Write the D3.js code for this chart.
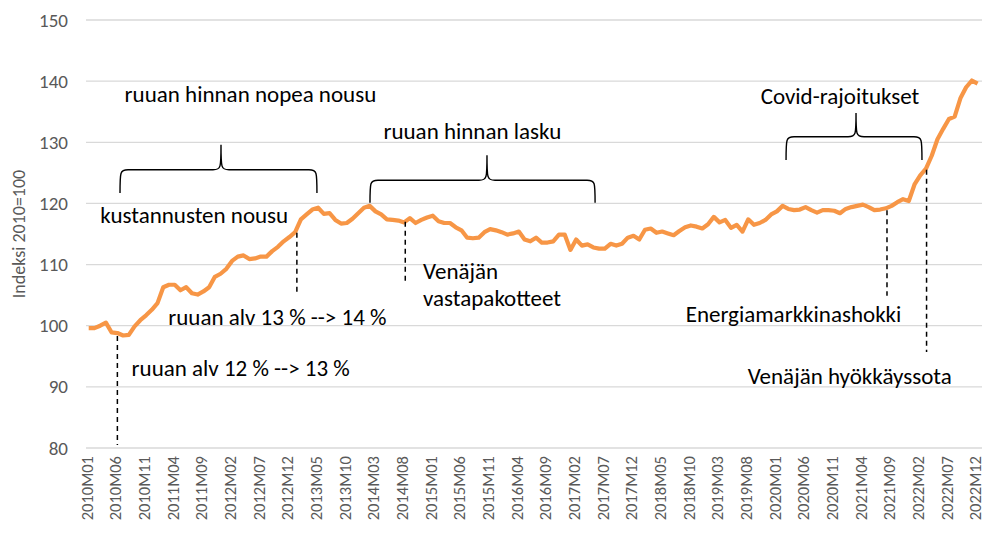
<!DOCTYPE html>
<html>
<head>
<meta charset="utf-8">
<script src="https://cdn.jsdelivr.net/npm/d3@7"></script>
<style>
	body { margin: 0; background: white; }
	svg text { font-family: Carlito, Calibri, Lato, sans-serif; }
</style>
</head>
<body>
<div id="chart"></div>
<script>
// ruoan hintaindeksi 2010=100, kuukausittain 2010M01 - 2022M12
const years = [2010, 2011, 2012, 2013, 2014, 2015, 2016, 2017, 2018, 2019, 2020, 2021, 2022]
const index2010 = [
	99.6, 99.6, 100.0, 100.5, 98.9, 98.8, 98.4, 98.5, 99.9, 100.9, 101.7, 102.6,
	103.7, 106.3, 106.7, 106.7, 105.8, 106.3, 105.3, 105.1, 105.6, 106.3, 108.0, 108.5,
	109.3, 110.6, 111.3, 111.5, 110.9, 111.0, 111.3, 111.3, 112.2, 112.9, 113.8, 114.5,
	115.3, 117.4, 118.2, 119.0, 119.3, 118.3, 118.4, 117.3, 116.7, 116.8, 117.5, 118.4,
	119.3, 119.6, 118.7, 118.2, 117.4, 117.3, 117.2, 116.9, 117.6, 116.8, 117.3, 117.7,
	118.0, 117.1, 116.8, 116.8, 116.1, 115.6, 114.4, 114.3, 114.4, 115.3, 115.8, 115.6,
	115.3, 114.9, 115.1, 115.4, 114.1, 113.8, 114.4, 113.6, 113.6, 113.8, 114.9, 114.9,
	112.4, 114.1, 113.1, 113.3, 112.8, 112.6, 112.6, 113.4, 113.1, 113.4, 114.4, 114.7,
	114.1, 115.7, 115.9, 115.2, 115.4, 115.1, 114.8, 115.5, 116.1, 116.4, 116.2, 115.9,
	116.6, 117.8, 116.9, 117.3, 116.0, 116.5, 115.4, 117.4, 116.5, 116.8, 117.3, 118.2,
	118.7, 119.6, 119.1, 118.9, 119.0, 119.4, 118.9, 118.5, 118.9, 118.9, 118.8, 118.4,
	119.1, 119.4, 119.6, 119.8, 119.4, 118.9, 119.0, 119.2, 119.6, 120.2, 120.7, 120.4,
	123.1, 124.6, 125.7, 127.8, 130.5, 132.2, 133.8, 134.2, 137.2, 139.0, 140.1, 139.6
]
const yTicks = [80, 90, 100, 110, 120, 130, 140, 150]
const yLabel = 'Indeksi 2010=100'

const months = []
for (let y of years) {
	for (let m = 1; m < 13; m++) {
		months.push(y + 'M' + (m < 10 ? '0' + m : m))
	}
}
const tickLabels = months.filter((d, i) => i % 5 == 0)

// tekstit: kohta kuukausi-indeksinä ja indeksin tasona
const notes = [
	{ text: 'ruuan hinnan nopea nousu', at: 28.2, v: 136.6 },
	{ text: 'kustannusten nousu', at: 18.4, v: 116.8 },
	{ text: 'ruuan alv 13 % --> 14 %', at: 32.9, v: 100.1 },
	{ text: 'ruuan alv 12 % --> 13 %', at: 26.5, v: 91.7 },
	{ text: 'ruuan hinnan lasku', at: 66.9, v: 130.6 },
	{ text: 'Venäjän', at: 58.3, v: 107.6, anchor: 'start' },
	{ text: 'vastapakotteet', at: 58.3, v: 103.2, anchor: 'start' },
	{ text: 'Covid-rajoitukset', at: 131, v: 136.2 },
	{ text: 'Energiamarkkinashokki', at: 122.9, v: 100.6 },
	{ text: 'Venäjän hyökkäyssota', at: 132.7, v: 90.4 }
]
const braces = [
	{ from: 5.46, to: 39.8, mid: 23.07, tip: 121.7, bar: 125.5, peak: 129.6 },
	{ from: 49.05, to: 88.3, mid: 69.45, tip: 120.1, bar: 123.8, peak: 127.9 },
	{ from: 121.6, to: 145.3, mid: 133.8, tip: 127.1, bar: 130.9, peak: 134.8 }
]
const dashes = [
	{ at: 5, from: 98.3, to: 80.5 },
	{ at: 36.3, from: 115.2, to: 104.9 },
	{ at: 55.2, from: 117.0, to: 107.2 },
	{ at: 139.2, from: 118.9, to: 104.9 },
	{ at: 146.1, from: 125.5, to: 95.7 }
]

const width = 985
const height = 538

const svg = d3.select('#chart')
	.append('svg')
	.attr('width', width)
	.attr('height', height)

const x = d3.scalePoint()
	.domain(months)
	.range([88.7, 977.6])

const xi = function(i) {
	return x(months[0]) + i * x.step()
}

const y = d3.scaleLinear()
	.domain([80, 150])
	.range([448, 20])

// gridlines
svg.append('g')
	.selectAll('line')
	.data(yTicks)
	.join('line')
	.attr('x1', 86)
	.attr('x2', 982)
	.attr('y1', d => y(d))
	.attr('y2', d => y(d))
	.attr('stroke', '#d9d9d9')
	.attr('stroke-width', 1.3)

// y axis labels
const yAxis = svg.append('g')
	.attr('transform', 'translate(68,0)')
	.call(d3.axisLeft(y).tickValues(yTicks).tickSize(0).tickPadding(0))
yAxis.select('.domain').remove()
yAxis.selectAll('text')
	.attr('fill', '#595959')
	.attr('font-size', 19)

svg.append('text')
	.attr('transform', 'translate(25,' + 234 + ') rotate(-90)')
	.attr('text-anchor', 'middle')
	.attr('fill', '#595959')
	.attr('font-size', 18)
	.text(yLabel)

// x axis labels
const xAxis = svg.append('g')
	.attr('transform', 'translate(0,448)')
	.call(d3.axisBottom(x).tickValues(tickLabels).tickSize(0).tickPadding(0))
xAxis.select('.domain').remove()
xAxis.selectAll('text')
	.attr('fill', '#595959')
	.attr('font-size', 16.5)
	.attr('text-anchor', 'end')
	.attr('dy', '0.2em')
	.attr('transform', 'translate(0,8) rotate(-90)')
	.attr('x', 0)
	.attr('y', 0)

// line
const line = d3.line()
	.x((d, i) => x(months[i]))
	.y(d => y(d))

svg.append('path')
	.datum(index2010)
	.attr('d', line)
	.attr('fill', 'none')
	.attr('stroke', '#f79646')
	.attr('stroke-width', 4.2)
	.attr('stroke-linejoin', 'round')

// dashed lines
svg.append('g')
	.selectAll('line')
	.data(dashes)
	.join('line')
	.attr('x1', d => xi(d.at))
	.attr('x2', d => xi(d.at))
	.attr('y1', d => y(d.from))
	.attr('y2', d => y(d.to))
	.attr('stroke', 'black')
	.attr('stroke-width', 1.5)
	.attr('stroke-dasharray', '5,4')

// braces
const bracePath = function(b) {
	const x0 = xi(b.from), x1 = xi(b.to), xm = xi(b.mid)
	const yt = y(b.tip), yb = y(b.bar), yp = y(b.peak)
	const r = 8
	return 'M' + x0 + ',' + yt +
		' C' + x0 + ',' + (yb + 2) + ' ' + x0 + ',' + yb + ' ' + (x0 + r) + ',' + yb +
		' L' + (xm - r) + ',' + yb +
		' C' + xm + ',' + yb + ' ' + xm + ',' + (yb - 2) + ' ' + xm + ',' + yp +
		' C' + xm + ',' + (yb - 2) + ' ' + xm + ',' + yb + ' ' + (xm + r) + ',' + yb +
		' L' + (x1 - r) + ',' + yb +
		' C' + x1 + ',' + yb + ' ' + x1 + ',' + (yb + 2) + ' ' + x1 + ',' + yt
}

svg.append('g')
	.selectAll('path')
	.data(braces)
	.join('path')
	.attr('d', bracePath)
	.attr('fill', 'none')
	.attr('stroke', 'black')
	.attr('stroke-width', 1.4)

// notes
svg.append('g')
	.selectAll('text')
	.data(notes)
	.join('text')
	.attr('x', d => xi(d.at))
	.attr('y', d => y(d.v))
	.attr('text-anchor', d => d.anchor || 'middle')
	.attr('font-size', 23)
	.attr('fill', 'black')
	.text(d => d.text)
</script>
</body>
</html>
